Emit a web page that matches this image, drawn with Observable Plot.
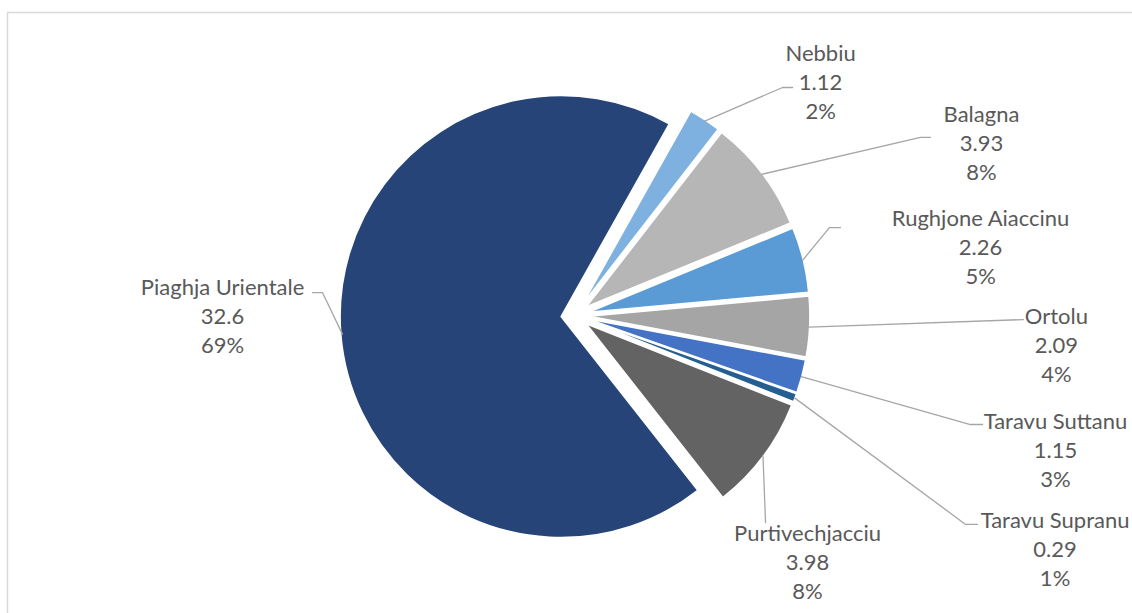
<!DOCTYPE html>
<html>
<head>
<meta charset="utf-8">
<script src="https://cdn.jsdelivr.net/npm/d3@7"></script>
<script src="https://cdn.jsdelivr.net/npm/@observablehq/plot@0.6"></script>
<style>
  html, body { margin: 0; padding: 0; background: #fff; overflow: hidden; }
  #chart svg { display: block; }
</style>
</head>
<body>
<div id="chart"></div>
<script>
// ---- data ----
const names   = ["Nebbiu", "Balagna", "Rughjone Aiaccinu", "Ortolu", "Taravu Suttanu", "Taravu Supranu", "Purtivechjacciu", "Piaghja Urientale"];
const values  = [1.12, 3.93, 2.26, 2.09, 1.15, 0.29, 3.98, 32.6];
const percents = [2, 8, 5, 4, 3, 1, 8, 69];
const colors  = ["#7EB1E0", "#B6B6B6", "#5B9BD5", "#A5A5A5", "#4472C4", "#255E91", "#636363", "#264478"];

// ---- layout (pie units: radius = 1, y up) ----
const W = 1132, H = 613;
const R = 221;                 // pixel radius
const CX = 575, CY = 315.5;    // pie centre in pixels
const explode = 0.063;         // slice explosion, in radii
const startDeg = 29.3;
const labelPos = [[1.109, 1.066], [1.837, 0.790], [1.833, 0.319], [2.176, -0.124], [2.172, -0.600], [2.170, -1.048], [1.050, -1.106], [-1.597, 0.007]];
const leaderBends = [
  [[0.937, 1.034], [0.982, 1.034]],
  [[1.561, 0.808], [1.606, 0.808]],
  [[1.149, 0.400], [1.199, 0.400]],
  [[2.027, -0.016]],
  [[1.787, -0.491], [1.842, -0.491]],
  [[1.765, -0.943], [1.819, -0.943]],
  [[0.860, -0.935]],
  [[-1.145, 0.106], [-1.190, 0.106]]
];

const rows = names.map((n, i) => ({name: n, value: values[i], pct: percents[i], color: colors[i]}));
const a0 = startDeg * Math.PI / 180;
const arcs = d3.pie().value(d => d.value).sort(null).startAngle(a0).endAngle(a0 + 2 * Math.PI)(rows);

const labels = rows.map((d, i) => ({...d, lx: labelPos[i][0], ly: labelPos[i][1]}));
const leaders = [];
arcs.forEach((a, i) => {
  const mid = (a.startAngle + a.endAngle) / 2;
  const rr = 1 + explode - 0.005;
  leaders.push({k: i, x: Math.sin(mid) * rr, y: Math.cos(mid) * rr});
  leaderBends[i].forEach(p => leaders.push({k: i, x: p[0], y: p[1]}));
});

function pieSlices(index, scales) {
  const {x, y} = scales;
  const cx = x(0), cy = y(0);
  const rpx = x(1) - x(0);
  const g = d3.create("svg:g");
  const arcGen = d3.arc().innerRadius(0).outerRadius(rpx);
  arcs.forEach(a => {
    const mid = (a.startAngle + a.endAngle) / 2;
    const dx = Math.sin(mid) * explode * rpx;
    const dy = -Math.cos(mid) * explode * rpx;
    g.append("path")
      .attr("d", arcGen(a))
      .attr("transform", `translate(${cx + dx},${cy + dy})`)
      .attr("fill", a.data.color)
      .attr("stroke", "#fff")
      .attr("stroke-width", 1.5)
      .attr("stroke-linejoin", "round");
  });
  return g.node();
}

function border() {
  const g = d3.create("svg:g");
  g.append("path").attr("d", `M7.5,${H}V12.5H${W}`).attr("fill", "none").attr("stroke", "#d9d9d9").attr("stroke-width", 1.5);
  return g.node();
}

const chart = Plot.plot({
  width: W,
  height: H,
  margin: 0,
  x: {domain: [-CX / R, (W - CX) / R], axis: null},
  y: {domain: [-(H - CY) / R, CY / R], axis: null},
  style: {background: "#fff", fontFamily: "Lato, 'Open Sans', sans-serif"},
  marks: [
    border,
    pieSlices,
    Plot.line(leaders, {x: "x", y: "y", z: "k", stroke: "#A6A6A6", strokeWidth: 1.3}),
    Plot.text(labels, {
      x: "lx", y: "ly",
      text: d => `${d.name}\n${d.value}\n${d.pct}%`,
      lineHeight: 1.32,
      lineAnchor: "middle",
      fontSize: 22,
      fill: "#595959",
      fontFamily: "Lato, 'Open Sans', sans-serif"
    })
  ]
});
document.getElementById("chart").appendChild(chart);
</script>
</body>
</html>
